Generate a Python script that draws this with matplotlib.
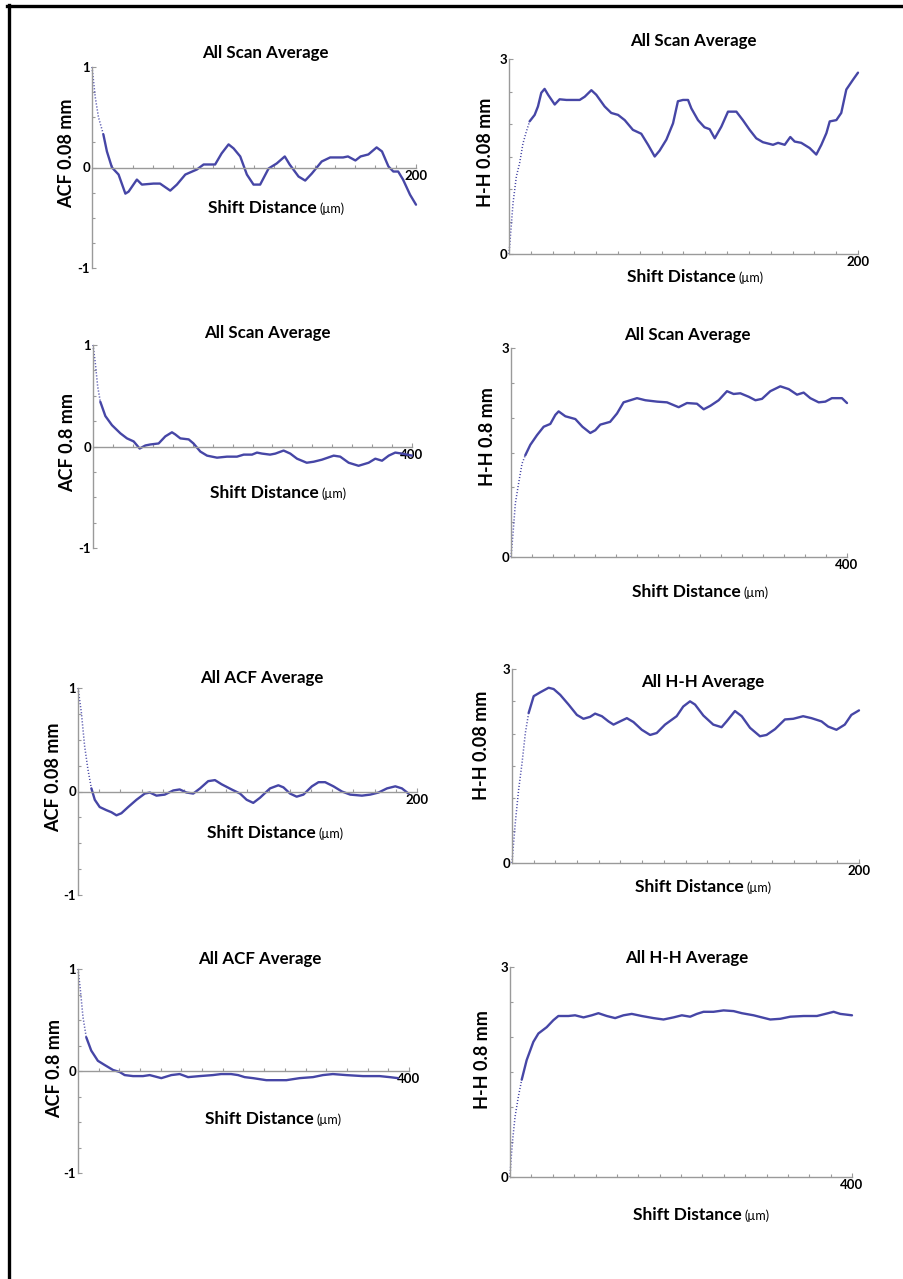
import matplotlib
matplotlib.use("Agg")
import matplotlib.pyplot as plt
from matplotlib.lines import Line2D
from matplotlib.ticker import FixedLocator, MultipleLocator

W, H = 904, 1279
FONT = "Lato"
LINE = "#4646a6"
AXC = "#9a9a9a"

# ---- data ----
# row 1: all scan average, 0.08 mm
acf_scan_008_x = [0, 2, 4, 7, 9.2, 12.3, 16.4, 20.6, 22.6, 27.7, 30.8, 38, 42, 48.3, 52.4, 57.6,
                  64.7, 68.9, 76, 80, 84.3, 87.4, 91.5, 95.6, 99.7, 103.8, 109, 114, 119, 122,
                  127.5, 131.6, 135.7, 141.8, 147, 155, 158, 162.6, 165.8, 170.6, 175.7, 179,
                  183, 186, 189, 192, 196.3, 200]
acf_scan_008_y = [1, 0.7, 0.5, 0.33, 0.16, 0, -0.07, -0.26, -0.24, -0.12, -0.17, -0.16, -0.16,
                  -0.23, -0.17, -0.07, -0.02, 0.03, 0.03, 0.14, 0.23, 0.19, 0.11, -0.07, -0.17,
                  -0.17, -0.01, 0.04, 0.11, 0.03, -0.09, -0.13, -0.06, 0.06, 0.10, 0.10, 0.11,
                  0.07, 0.11, 0.13, 0.20, 0.16, 0.01, -0.04, -0.04, -0.12, -0.27, -0.37]

hh_scan_008_x = [0, 0.8, 2.3, 4.2, 6.1, 8, 9.9, 11.8, 14.7, 16.6, 18.5, 20.4, 22.4, 26.2, 29,
                 32.9, 40.5, 43.4, 47.2, 50, 54.8, 58.6, 62.5, 66.3, 71, 75.8, 79.7, 83.5, 86.3,
                 90.2, 94, 96.8, 99.7, 102.6, 104.5, 108.3, 112, 115, 117.9, 121.7, 125.5,
                 130.3, 134, 137.9, 141.7, 145.5, 151.3, 154.2, 158, 161.2, 163.7, 167.5,
                 172.3, 176.1, 179, 181.9, 183.8, 187.6, 190.4, 193.3, 197.1, 200]
hh_scan_008_y = [0, 0.27, 0.78, 1.19, 1.4, 1.7, 1.88, 2.04, 2.14, 2.27, 2.48, 2.54, 2.45, 2.30,
                 2.38, 2.37, 2.37, 2.42, 2.52, 2.45, 2.27, 2.17, 2.14, 2.06, 1.91, 1.85, 1.68,
                 1.5, 1.59, 1.76, 2.01, 2.35, 2.37, 2.37, 2.24, 2.06, 1.95, 1.92, 1.78, 1.96,
                 2.19, 2.19, 2.06, 1.91, 1.78, 1.72, 1.68, 1.71, 1.68, 1.80, 1.73, 1.71, 1.63,
                 1.53, 1.68, 1.86, 2.04, 2.06, 2.17, 2.53, 2.68, 2.79]

# row 2: all scan average, 0.8 mm
acf_scan_08_x = [0, 2.9, 5.9, 9.2, 15.5, 23.8, 34.3, 42.6, 51, 58.5, 65.6, 71.9, 82.3, 90.7, 99,
                 103, 109.5, 120, 126, 134.6, 143, 155.5, 168, 180.5, 189, 199.4, 205.6, 212,
                 222, 228.6, 239, 247.4, 255.8, 268, 276.7, 287, 301.8, 310, 320.6, 333, 345.6,
                 354, 362.4, 370.8, 379, 387.5, 400]
acf_scan_08_y = [1, 0.82, 0.59, 0.44, 0.30, 0.21, 0.13, 0.08, 0.05, -0.02, 0.01, 0.02, 0.03,
                 0.10, 0.14, 0.12, 0.08, 0.07, 0.03, -0.05, -0.09, -0.11, -0.10, -0.10, -0.08,
                 -0.08, -0.06, -0.07, -0.08, -0.07, -0.04, -0.07, -0.12, -0.16, -0.15, -0.13,
                 -0.09, -0.10, -0.16, -0.19, -0.16, -0.12, -0.14, -0.09, -0.06, -0.07, -0.09]

hh_scan_08_x = [0, 2.4, 5.2, 9.1, 13.1, 17, 23, 31, 38.9, 46.8, 52.8, 56.7, 64.7, 76.6, 85,
                94.4, 100.4, 106.3, 118, 126.2, 134, 150, 160, 174, 185.7, 199.6, 209.5, 221.4,
                229.4, 237.3, 247.2, 257.1, 265, 273, 283, 291, 298.8, 308.7, 320.6, 330.6,
                340.5, 348.4, 356.3, 366.3, 374.2, 382, 394, 400]
hh_scan_08_y = [0, 0.34, 0.77, 1.06, 1.34, 1.46, 1.61, 1.75, 1.87, 1.91, 2.04, 2.09, 2.02, 1.98,
                1.87, 1.78, 1.82, 1.90, 1.94, 2.06, 2.22, 2.28, 2.25, 2.23, 2.22, 2.15, 2.21,
                2.20, 2.12, 2.17, 2.25, 2.38, 2.34, 2.35, 2.30, 2.25, 2.27, 2.38, 2.45, 2.41,
                2.33, 2.36, 2.28, 2.22, 2.23, 2.28, 2.28, 2.21]

# row 3: all ACF / H-H average, 0.08 mm
acf_avg_008_x = [0, 2, 3.9, 5.9, 7.9, 9.9, 12.8, 16.7, 19.7, 22.7, 25.6, 29.6, 34.5, 39.4, 42.4,
                 46.3, 51.2, 56.2, 60, 64, 68, 72, 76.8, 80.8, 84.7, 90.6, 95.6, 99.5, 103.4,
                 107.4, 113.3, 118.2, 121.2, 125.1, 129, 133, 138, 141.9, 145.8, 150.7, 155.7,
                 160.6, 167.5, 172.4, 177.3, 182.3, 187.2, 191.1, 195]
acf_avg_008_y = [1, 0.76, 0.44, 0.21, 0.03, -0.08, -0.15, -0.18, -0.20, -0.23, -0.21, -0.15,
                 -0.08, -0.02, -0.01, -0.04, -0.03, 0.01, 0.02, -0.01, -0.02, 0.03, 0.10, 0.11,
                 0.07, 0.02, -0.02, -0.08, -0.11, -0.06, 0.03, 0.06, 0.04, -0.02, -0.05, -0.03,
                 0.05, 0.09, 0.09, 0.05, 0, -0.03, -0.04, -0.03, -0.01, 0.03, 0.05, 0.03, -0.02]

hh_avg_008_x = [0, 0.6, 1.9, 3.8, 5.8, 7.7, 9.6, 12.5, 16.3, 21.1, 24, 27.8, 32.6, 37.4, 41.2,
                45, 47.9, 51.8, 55.6, 58.5, 62.3, 66.2, 70, 74.8, 79.6, 83.4, 88.2, 94.9, 98.7,
                102.6, 105.5, 110.3, 116, 120.8, 123.7, 128.5, 132.4, 137.2, 142.9, 146.7,
                151.6, 157.3, 162.1, 167.8, 172.6, 178.4, 182.2, 187, 191.8, 195.6, 200]
hh_avg_008_y = [0, 0.21, 0.62, 1.13, 1.55, 2.01, 2.32, 2.58, 2.64, 2.71, 2.69, 2.60, 2.45, 2.29,
                2.23, 2.26, 2.31, 2.27, 2.19, 2.14, 2.19, 2.24, 2.18, 2.06, 1.98, 2.01, 2.14,
                2.27, 2.42, 2.50, 2.45, 2.28, 2.14, 2.10, 2.19, 2.35, 2.27, 2.09, 1.96, 1.98,
                2.07, 2.22, 2.23, 2.27, 2.24, 2.19, 2.11, 2.06, 2.14, 2.29, 2.36]

# row 4: all ACF / H-H average, 0.8 mm
acf_avg_08_x = [0, 2.8, 6, 10, 16, 24, 32, 42.3, 50.4, 56.4, 66.5, 78.5, 86.6, 100.7, 112.8,
                122.9, 133, 147, 163, 173, 185, 193.4, 201.4, 211.5, 227.6, 251.8, 267.8, 284,
                296, 308, 324, 344.3, 364.5, 376.5, 386.7]
acf_avg_08_y = [1, 0.80, 0.53, 0.33, 0.20, 0.10, 0.06, 0.01, -0.01, -0.04, -0.05, -0.05, -0.04,
                -0.07, -0.04, -0.03, -0.06, -0.05, -0.04, -0.03, -0.03, -0.04, -0.06, -0.07,
                -0.09, -0.09, -0.07, -0.06, -0.04, -0.03, -0.04, -0.05, -0.05, -0.06, -0.07]

hh_avg_08_x = [0, 1.2, 3.1, 5.9, 9.8, 13.7, 19.5, 27.3, 33.2, 42.9, 50.7, 56.6, 68.3, 76.1, 86,
               95.6, 103.4, 113.2, 123, 132.7, 142.4, 154.1, 167.8, 179.5, 191.2, 201, 210.7,
               218.5, 226.3, 238, 249.8, 261.5, 271.2, 284.9, 294.6, 304.4, 316.1, 327.8, 343.4,
               359, 368.8, 378.5, 386.3, 400]
hh_avg_08_y = [0, 0.25, 0.53, 0.86, 1.15, 1.39, 1.67, 1.93, 2.05, 2.14, 2.24, 2.30, 2.30, 2.31,
               2.28, 2.31, 2.34, 2.30, 2.27, 2.31, 2.33, 2.30, 2.27, 2.25, 2.28, 2.31, 2.29,
               2.33, 2.36, 2.36, 2.38, 2.37, 2.34, 2.31, 2.28, 2.25, 2.26, 2.29, 2.30, 2.30,
               2.33, 2.36, 2.33, 2.31]

fig = plt.figure(figsize=(W / 100, H / 100), dpi=100)
fig.patch.set_facecolor("white")
renderer = fig.canvas.get_renderer()


def fx(px):
    return px / W


def fy(py):
    return 1 - py / H


def panel(x0, x1, ytop, ybot, xs, ys, xmax, kind, dotted_to):
    ax = fig.add_axes([fx(x0), fy(ybot), (x1 - x0) / W, (ybot - ytop) / H])
    ax.patch.set_alpha(0)
    if kind == "acf":
        ax.set_ylim(-1, 1)
        ax.set_yticks([-1, 0, 1], ["-1", "0", "1"])
        ax.yaxis.set_minor_locator(MultipleLocator(0.25))
    else:
        ax.set_ylim(0, 3)
        ax.set_yticks([0, 3], ["0", "3"])
        ax.yaxis.set_minor_locator(MultipleLocator(0.5))
    ax.set_xlim(0, xmax)
    ax.set_xticks([xmax], [str(xmax)])
    ax.xaxis.set_minor_locator(FixedLocator([xmax / 16 * i for i in range(1, 16)]))
    for s in ("top", "right"):
        ax.spines[s].set_visible(False)
    ax.spines["bottom"].set_position(("data", 0))
    for s in ("left", "bottom"):
        ax.spines[s].set_color(AXC)
        ax.spines[s].set_linewidth(1.0)
    ax.tick_params(which="both", direction="in", color=AXC, width=0.8)
    ax.tick_params(which="major", length=3, pad=1.5)
    ax.tick_params(which="minor", length=2.5)
    for lab in ax.get_xticklabels() + ax.get_yticklabels():
        lab.set_fontfamily(FONT)
        lab.set_fontweight("bold")
        lab.set_fontsize(9.5)
    k = dotted_to
    ax.plot(xs[:k + 1], ys[:k + 1], color=LINE, lw=1.1, ls=(0, (0.7, 1.3)), clip_on=False)
    ax.plot(xs[k:], ys[k:], color=LINE, lw=1.7, clip_on=False,
            solid_capstyle="round", solid_joinstyle="round")
    return ax


def title(px, py, s):
    fig.text(fx(px), fy(py), s, ha="center", va="center", fontfamily=FONT,
             fontweight="bold", fontsize=12.2)


def xlabel(px, py):
    t = fig.text(fx(px), fy(py), "Shift Distance", ha="left", va="center",
                 fontfamily=FONT, fontweight="bold", fontsize=12.5)
    bb = t.get_window_extent(renderer)
    fig.text(fx(bb.x1 + 3), fy(py + 1), "(\u00b5m)", ha="left", va="center",
             fontfamily=FONT, fontsize=9)


def ylabel(px, py, s):
    fig.text(fx(px), fy(py), s, ha="center", va="center", rotation=90,
             fontfamily=FONT, fontweight="bold", fontsize=13)


panel(92, 416, 67, 268, acf_scan_008_x, acf_scan_008_y, 200, "acf", 3)
panel(509, 858, 59, 254, hh_scan_008_x, hh_scan_008_y, 200, "hh", 7)
panel(93, 412, 345, 548, acf_scan_08_x, acf_scan_08_y, 400, "acf", 3)
panel(511, 847, 348, 557, hh_scan_08_x, hh_scan_08_y, 400, "hh", 5)
panel(78, 417, 688, 895, acf_avg_008_x, acf_avg_008_y, 200, "acf", 4)
panel(78, 409, 969, 1173, acf_avg_08_x, acf_avg_08_y, 400, "acf", 3)
panel(512, 859, 669, 863, hh_avg_008_x, hh_avg_008_y, 200, "hh", 6)
panel(510, 852, 967, 1177, hh_avg_08_x, hh_avg_08_y, 400, "hh", 5)

title(265, 53, "All Scan Average")
title(693, 41, "All Scan Average")
title(267, 333, "All Scan Average")
title(687, 335, "All Scan Average")
title(262, 678, "All ACF Average")
title(260, 959, "All ACF Average")
title(703, 682, "All H-H Average")
title(687, 958, "All H-H Average")

xlabel(208, 208)
xlabel(627, 277)
xlabel(210, 493)
xlabel(632, 592)
xlabel(207, 833)
xlabel(205, 1119)
xlabel(635, 887)
xlabel(633, 1215)

ylabel(67, 153, "ACF 0.08 mm")
ylabel(486, 152, "H-H 0.08 mm")
ylabel(68, 443, "ACF 0.8 mm")
ylabel(488, 437, "H-H 0.8 mm")
ylabel(54, 777, "ACF 0.08 mm")
ylabel(55, 1068, "ACF 0.8 mm")
ylabel(482, 745, "H-H 0.08 mm")
ylabel(483, 1060, "H-H 0.8 mm")

# frame lines on the top and left edges
fig.add_artist(Line2D([fx(7), fx(904)], [fy(5.5), fy(5.5)], color="black", lw=2.4))
fig.add_artist(Line2D([fx(8.5), fx(8.5)], [fy(4.5), fy(1279)], color="black", lw=2.4))

fig.savefig("out.png", dpi=100)
